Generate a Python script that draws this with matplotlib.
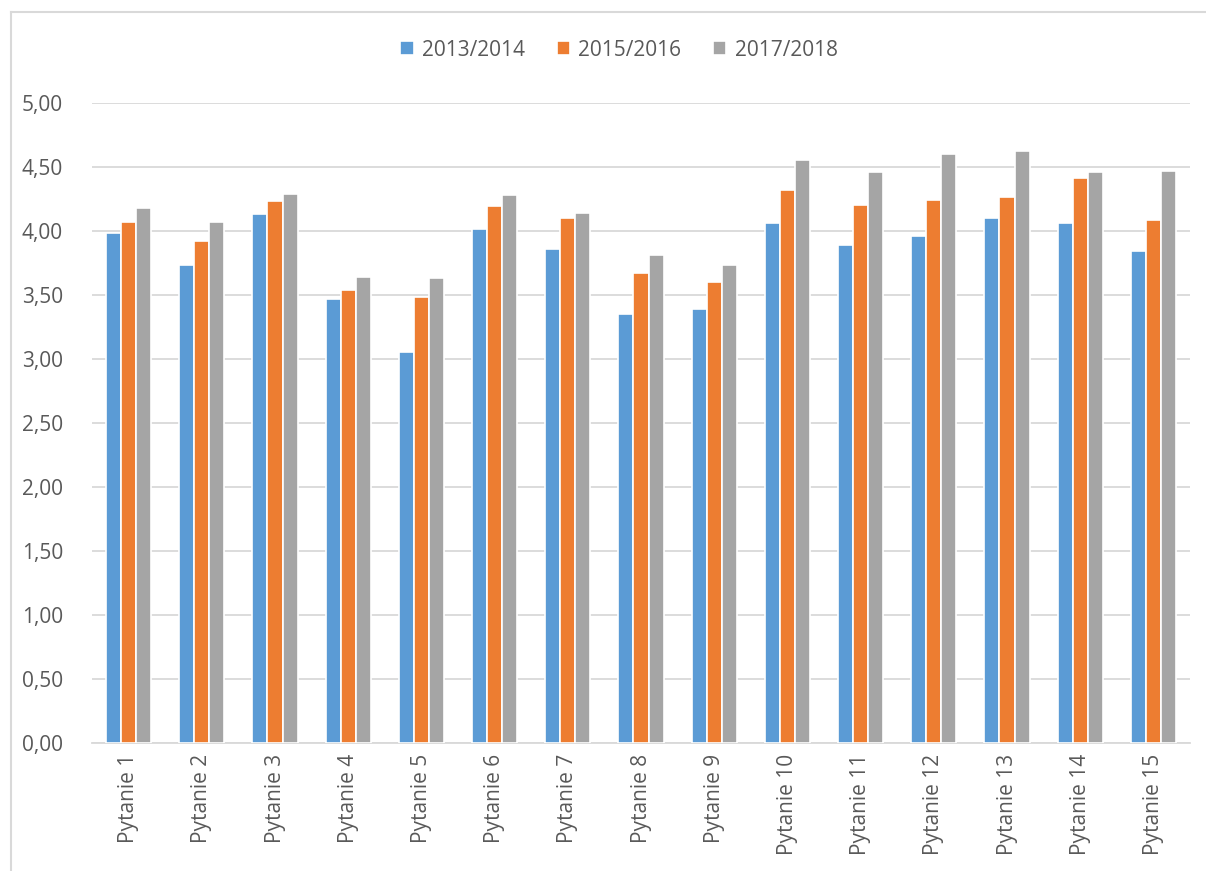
import matplotlib
matplotlib.use("Agg")
import matplotlib.pyplot as plt
import numpy as np
from matplotlib.ticker import FuncFormatter, MultipleLocator
from matplotlib.lines import Line2D

categories = [f"Pytanie {i}" for i in range(1, 16)]
series_names = ["2013/2014", "2015/2016", "2017/2018"]
v2013 = [3.98, 3.73, 4.13, 3.47, 3.05, 4.01, 3.86, 3.35, 3.39, 4.06, 3.89, 3.96, 4.10, 4.06, 3.84]
v2015 = [4.07, 3.92, 4.23, 3.54, 3.48, 4.19, 4.10, 3.67, 3.60, 4.32, 4.20, 4.24, 4.26, 4.41, 4.08]
v2017 = [4.18, 4.07, 4.29, 3.64, 3.63, 4.28, 4.14, 3.81, 3.73, 4.55, 4.46, 4.60, 4.62, 4.46, 4.47]
colors = ["#5B9BD5", "#ED7D31", "#A5A5A5"]

plt.rcParams['font.family'] = ['Open Sans', 'DejaVu Sans']
txt = "#595959"
fs = 15

fig = plt.figure(figsize=(12.06, 8.71), dpi=100)
ax = fig.add_axes([92/1206, 1-742.7/871, (1190-92)/1206, (742.7-102.7)/871])

x = np.arange(len(categories))
w = 0.205
for i, (vals, c, name) in enumerate(zip([v2013, v2015, v2017], colors, series_names)):
    ax.bar(x + (i-1)*w, vals, width=w, color=c, edgecolor="white", linewidth=1.2, label=name, zorder=3)

ax.set_xlim(-0.5, len(categories)-0.5)
ax.set_ylim(0, 5)
ax.yaxis.set_major_locator(MultipleLocator(0.5))
ax.yaxis.set_major_formatter(FuncFormatter(lambda v, p: f"{v:.2f}".replace(".", ",")))
ax.grid(axis="y", color="#D9D9D9", linewidth=1.3, zorder=0)
ax.set_axisbelow(True)
for s in ["top", "right", "left"]:
    ax.spines[s].set_visible(False)
ax.spines["bottom"].set_color("#D9D9D9")
ax.spines["bottom"].set_linewidth(1.3)
ax.set_xticks(x)
ax.set_xticklabels(categories, rotation=90, fontsize=fs, color=txt)
ax.tick_params(axis="x", length=0, pad=8)
ax.tick_params(axis="y", length=0, pad=21, labelsize=fs, labelcolor=txt)

leg = fig.legend(loc="center", bbox_to_anchor=(619/1206, 1-50/871), ncol=3, frameon=False,
                 fontsize=fs, handlelength=0.65, handleheight=0.65, handletextpad=0.4,
                 columnspacing=1.5)
for t in leg.get_texts():
    t.set_color(txt)

bx, by = 10.5/1206, 1-12.5/871
fig.lines.append(Line2D([bx, 1], [by, by], transform=fig.transFigure, color="#D9D9D9", linewidth=1.5))
fig.lines.append(Line2D([bx, bx], [0, by], transform=fig.transFigure, color="#D9D9D9", linewidth=1.5))

fig.savefig("out.png", dpi=100)
